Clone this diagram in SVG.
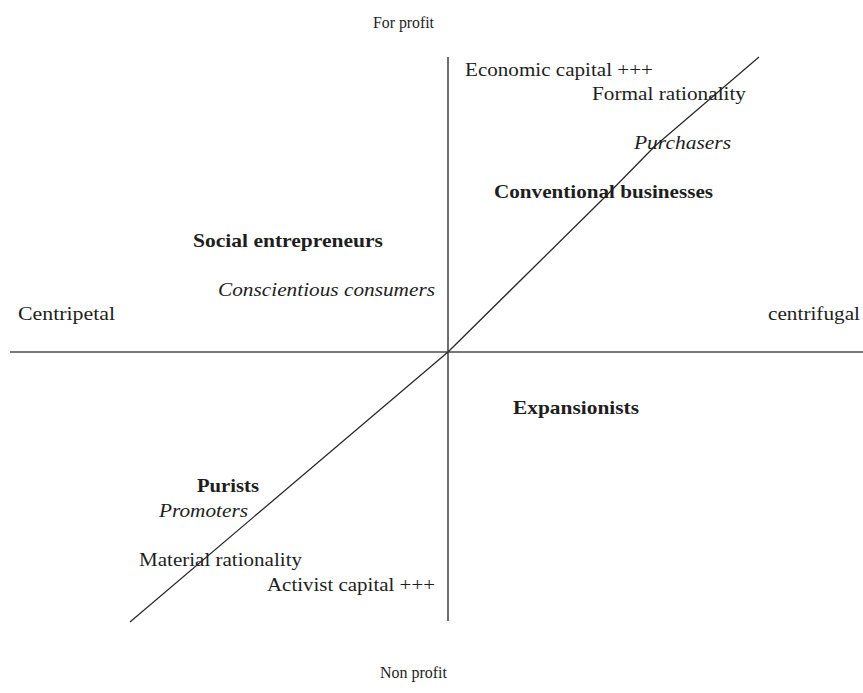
<svg xmlns="http://www.w3.org/2000/svg" width="863" height="693" viewBox="0 0 863 693">
  <style>
    text { font-family: "Liberation Serif", "Times New Roman", serif; fill: #1e1e1e; }
    .axis-label { font-size: 17px; }
    .lbl { font-size: 19px; }
    .bold { font-size: 19px; font-weight: bold; }
    .ital { font-size: 19px; font-style: italic; }
    .axis { stroke: #4a4a4a; stroke-width: 1.6; fill: none; }
    .diag { stroke: #2a2a2a; stroke-width: 1.3; fill: none; stroke-linejoin: round; }
  </style>
  <rect width="863" height="693" fill="#ffffff"/>

  <!-- axes and diagonal -->
  <g id="connectors">
    <line class="axis" x1="448" y1="57" x2="448" y2="621"/>
    <line class="axis" x1="10" y1="352" x2="863" y2="352"/>
    <polyline class="diag" points="130,622 448,352 607,195 655,146 759,57"/>
  </g>

  <!-- axis poles -->
  <g id="for-profit"><text class="axis-label" x="373" y="28" textLength="61" lengthAdjust="spacingAndGlyphs">For profit</text></g>
  <g id="non-profit"><text class="axis-label" x="380" y="678" textLength="67" lengthAdjust="spacingAndGlyphs">Non profit</text></g>
  <g id="centripetal"><text class="lbl" x="18" y="320" textLength="97" lengthAdjust="spacingAndGlyphs">Centripetal</text></g>
  <g id="centrifugal"><text class="lbl" x="768" y="320" textLength="92" lengthAdjust="spacingAndGlyphs">centrifugal</text></g>

  <!-- upper right quadrant -->
  <g id="economic-capital"><text class="lbl" x="465" y="76" textLength="188" lengthAdjust="spacingAndGlyphs">Economic capital +++</text></g>
  <g id="formal-rationality"><text class="lbl" x="592" y="100" textLength="154" lengthAdjust="spacingAndGlyphs">Formal rationality</text></g>
  <g id="purchasers"><text class="ital" x="634" y="149" textLength="97" lengthAdjust="spacingAndGlyphs">Purchasers</text></g>
  <g id="conventional-businesses"><text class="bold" x="494" y="198" textLength="219" lengthAdjust="spacingAndGlyphs">Conventional businesses</text></g>

  <!-- upper left quadrant -->
  <g id="social-entrepreneurs"><text class="bold" x="193" y="247" textLength="190" lengthAdjust="spacingAndGlyphs">Social entrepreneurs</text></g>
  <g id="conscientious-consumers"><text class="ital" x="218" y="296" textLength="217" lengthAdjust="spacingAndGlyphs">Conscientious consumers</text></g>

  <!-- lower right quadrant -->
  <g id="expansionists"><text class="bold" x="513" y="414" textLength="126" lengthAdjust="spacingAndGlyphs">Expansionists</text></g>

  <!-- lower left quadrant -->
  <g id="purists"><text class="bold" x="197" y="492" textLength="62" lengthAdjust="spacingAndGlyphs">Purists</text></g>
  <g id="promoters"><text class="ital" x="159" y="517" textLength="89" lengthAdjust="spacingAndGlyphs">Promoters</text></g>
  <g id="material-rationality"><text class="lbl" x="139" y="566" textLength="163" lengthAdjust="spacingAndGlyphs">Material rationality</text></g>
  <g id="activist-capital"><text class="lbl" x="267" y="591" textLength="168" lengthAdjust="spacingAndGlyphs">Activist capital +++</text></g>
</svg>
